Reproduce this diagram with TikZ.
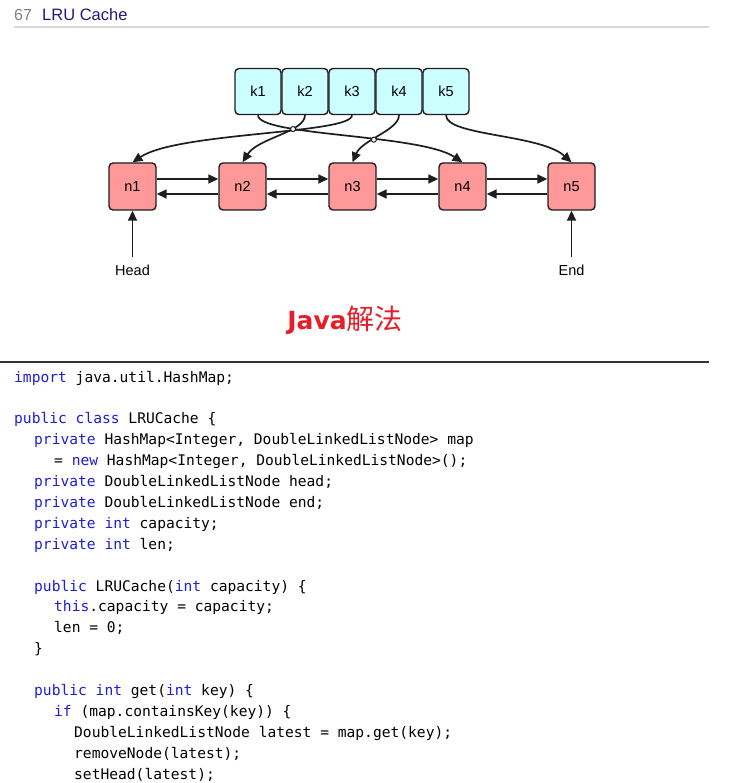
\documentclass[tikz,border=0pt]{standalone}
\usepackage{fontspec}
\setmainfont{Liberation Sans}
\newfontfamily\codefont{DejaVu Sans Mono}
\newfontfamily\djv{DejaVu Sans}
\newfontfamily\cjk{Noto Sans CJK SC}
\usetikzlibrary{arrows.meta,intersections}
\definecolor{kfill}{RGB}{204,255,255}
\definecolor{nfill}{RGB}{255,153,153}
\definecolor{edge}{RGB}{30,30,30}
\definecolor{kwblue}{RGB}{30,30,215}
\definecolor{titleblue}{RGB}{30,30,120}
\definecolor{javared}{RGB}{230,30,40}
\newcommand{\kw}[1]{\textcolor{kwblue}{#1}}
\tikzset{
  kbox/.style={draw=edge,fill=kfill,line width=1.4pt,rounded corners=4pt,minimum width=46pt,minimum height=46pt,inner sep=0pt,font=\fontsize{14.5}{16}\selectfont},
  nbox/.style={draw=edge,fill=nfill,line width=1.4pt,rounded corners=4pt,minimum width=47pt,minimum height=47pt,inner sep=0pt,font=\fontsize{14.5}{16}\selectfont},
  conn/.style={draw=edge,line width=1.7pt,-{Triangle[length=10pt,width=9pt]}},
  lbl/.style={font=\fontsize{14.5}{16}\selectfont,inner sep=7pt},
  code/.style={anchor=base west,inner sep=0pt,font=\codefont\fontsize{14.6}{17}\selectfont,text=black},
  hop/.style={draw=edge,fill=white,line width=1pt}
}
\begin{document}
\begin{tikzpicture}[x=1pt,y=1pt]
\useasboundingbox[fill=white] (0,0) rectangle (739,-783);
% title
\node[anchor=base west,inner sep=0pt,text=gray,font=\fontsize{16}{18}\selectfont] (num) at (14,-21) {67};
\node[anchor=base west,inner sep=0pt,text=titleblue,font=\fontsize{16.5}{18}\selectfont] (ttl) at (42,-21) {LRU Cache};
\draw[line width=2pt,color=black!15] (14,-27) -- (709,-27);
% key boxes
\node[kbox] (k1) at (258,-91.5) {k1};
\node[kbox] (k2) at (305,-91.5) {k2};
\node[kbox] (k3) at (352,-91.5) {k3};
\node[kbox] (k4) at (399,-91.5) {k4};
\node[kbox] (k5) at (446,-91.5) {k5};
% list nodes
\node[nbox] (n1) at (132.5,-186.5) {n1};
\node[nbox] (n2) at (242.5,-186.5) {n2};
\node[nbox] (n3) at (352.5,-186.5) {n3};
\node[nbox] (n4) at (462.5,-186.5) {n4};
\node[nbox] (n5) at (571.5,-186.5) {n5};
% key -> node curves
\draw[conn,name path=p1] (k1.south) .. controls (258,-136) and (420,-134) .. (n4.north);
\draw[conn,name path=p2] (k2.south) .. controls (305,-132) and (258,-138) .. (n2.north);
\draw[conn] (k3.south) .. controls (352,-134) and (178,-132) .. (n1.north);
\draw[conn,name path=p4] (k4.south) .. controls (399,-130) and (362,-140) .. (n3.north);
\draw[conn] (k5.south) .. controls (446,-136) and (540,-134) .. (n5.north);
\path[name intersections={of=p1 and p2,name=ia}];
\path[name intersections={of=p1 and p4,name=ib}];
\draw[hop] (ia-1) circle (2.5pt);
\draw[hop] (ib-1) circle (2.5pt);
% list links
\foreach \a/\b in {n1/n2,n2/n3,n3/n4,n4/n5}{
  \draw[conn] ([yshift=7.5pt]\a.east) -- ([yshift=7.5pt]\b.west);
  \draw[conn] ([yshift=-7.5pt]\b.west) -- ([yshift=-7.5pt]\a.east);
}
% head / end
\node[lbl] (head) at (132.5,-270) {Head};
\node[lbl] (end) at (571.5,-270) {End};
\draw[conn] (head.north) -- (n1.south);
\draw[conn] (end.north) -- (n5.south);
% Java heading
\node[inner sep=0pt,text=javared] (java) at (345,-320) {{\djv\bfseries\fontsize{25}{30}\selectfont Java}{\cjk\fontsize{28}{30}\selectfont 解法}};
\draw[line width=1.5pt,color=black!80] (0,-362) -- (709,-362);
% code
\node[code] (c1) at (14,-382) {\kw{import} java.util.HashMap;};
\node[code] (c2) at (14,-423.8) {\kw{public} \kw{class} LRUCache \{};
\node[code] (c3) at (34,-444.7) {\kw{private} HashMap<Integer, DoubleLinkedListNode> map};
\node[code] (c4) at (54,-465.6) {= \kw{new} HashMap<Integer, DoubleLinkedListNode>();};
\node[code] (c5) at (34,-486.5) {\kw{private} DoubleLinkedListNode head;};
\node[code] (c6) at (34,-507.4) {\kw{private} DoubleLinkedListNode end;};
\node[code] (c7) at (34,-528.3) {\kw{private} \kw{int} capacity;};
\node[code] (c8) at (34,-549.2) {\kw{private} \kw{int} len;};
\node[code] (c9) at (34,-591) {\kw{public} LRUCache(\kw{int} capacity) \{};
\node[code] (c10) at (54,-611.9) {\kw{this}.capacity = capacity;};
\node[code] (c11) at (54,-632.8) {len = 0;};
\node[code] (c12) at (34,-653.7) {\}};
\node[code] (c13) at (34,-695.5) {\kw{public} \kw{int} get(\kw{int} key) \{};
\node[code] (c14) at (54,-716.4) {\kw{if} (map.containsKey(key)) \{};
\node[code] (c15) at (74,-737.3) {DoubleLinkedListNode latest = map.get(key);};
\node[code] (c16) at (74,-758.2) {removeNode(latest);};
\node[code] (c17) at (74,-779.1) {setHead(latest);};
\end{tikzpicture}
\end{document}
